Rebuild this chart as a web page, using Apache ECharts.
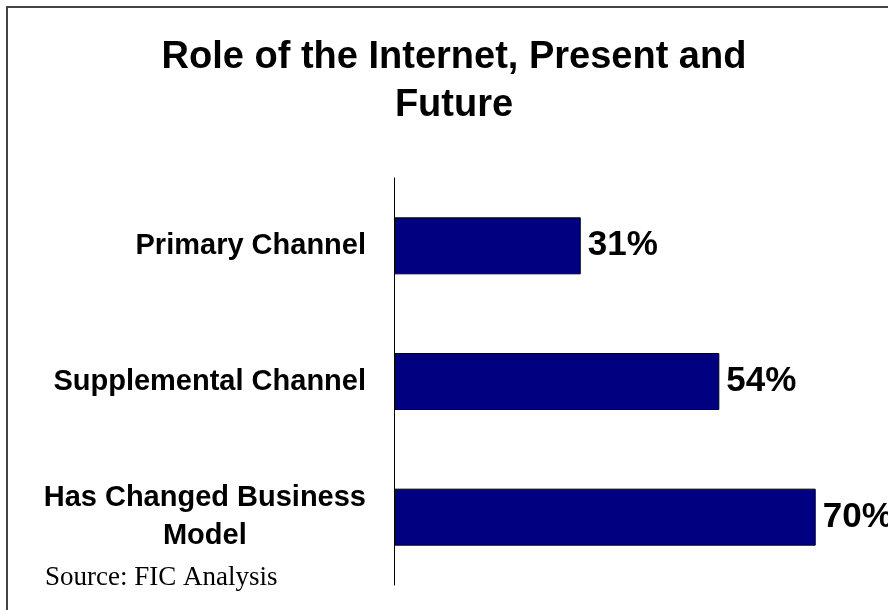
<!DOCTYPE html>
<html>
<head>
<meta charset="utf-8">
<script src="https://cdn.jsdelivr.net/npm/echarts@6/dist/echarts.min.js"></script>
<style>html,body{margin:0;padding:0;background:#fff}#c{width:888px;height:610px}</style>
</head>
<body>
<div id="c"></div>
<script>
const categories = ['Primary Channel', 'Supplemental Channel', 'Has Changed Business\nModel'];
const values = [31, 54, 70];
const titleText = 'Role of the Internet, Present and\nFuture';
const sourceText = 'Source: FIC Analysis';

const chart = echarts.init(document.getElementById('c'));
chart.setOption({
  backgroundColor: '#ffffff',
  animation: false,
  title: {
    text: titleText,
    left: 454,
    top: 34,
    textAlign: 'center',
    padding: 0,
    textStyle: {
      fontFamily: 'Liberation Sans, Arial, sans-serif',
      fontWeight: 'bold',
      fontSize: 38,
      lineHeight: 48,
      color: '#000'
    }
  },
  grid: { left: 394, right: 0, top: 178, bottom: 25, containLabel: false },
  xAxis: {
    type: 'value',
    min: 0,
    max: 82,
    show: false
  },
  yAxis: {
    type: 'category',
    data: categories,
    inverse: true,
    axisLine: { show: true, lineStyle: { color: '#000', width: 1 } },
    axisTick: { show: false },
    splitLine: { show: false },
    axisLabel: {
      margin: 28,
      color: '#000',
      fontFamily: 'Liberation Sans, Arial, sans-serif',
      fontWeight: 'bold',
      fontSize: 29,
      lineHeight: 38,
      formatter: function (v) {
        if (v.indexOf('\n') >= 0) {
          return v.split('\n').map(s => '{c|' + s + '}').join('\n');
        }
        return v;
      },
      rich: {
        c: {
          align: 'center',
          fontFamily: 'Liberation Sans, Arial, sans-serif',
          fontWeight: 'bold',
          fontSize: 29,
          lineHeight: 38,
          color: '#000'
        }
      }
    }
  },
  series: [{
    type: 'bar',
    data: values,
    barWidth: 57,
    itemStyle: { color: '#000080', borderColor: '#000', borderWidth: 1 },
    label: {
      show: true,
      position: 'right',
      distance: 7,
      formatter: '{c}%',
      color: '#000',
      fontFamily: 'Liberation Sans, Arial, sans-serif',
      fontWeight: 'bold',
      fontSize: 35
    }
  }],
  graphic: [
    {
      type: 'rect',
      shape: { x: 7, y: 7, width: 1000, height: 1000 },
      style: { fill: 'none', stroke: '#444', lineWidth: 2 },
      silent: true
    },
    {
      type: 'text',
      left: 45,
      top: 564,
      style: {
        text: sourceText,
        fontFamily: 'Liberation Serif, Times New Roman, serif',
        fontSize: 27,
        fill: '#000'
      }
    }
  ]
});
</script>
</body>
</html>
